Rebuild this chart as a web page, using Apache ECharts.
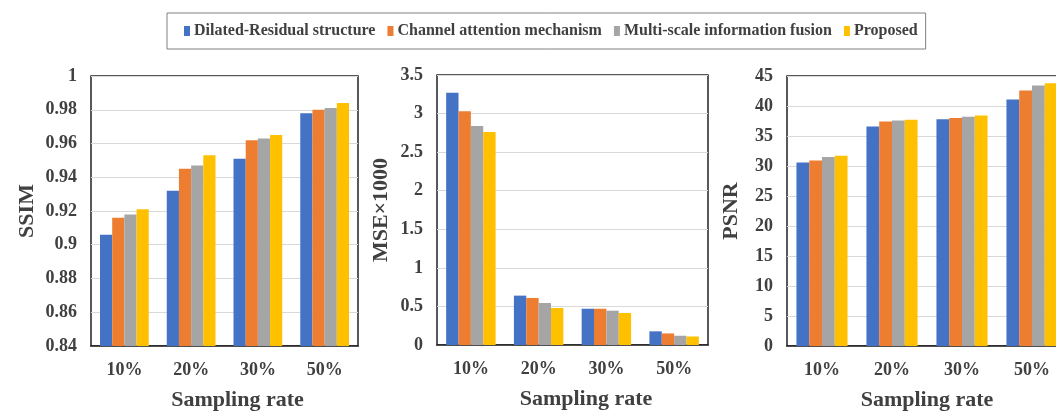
<!DOCTYPE html>
<html><head><meta charset="utf-8">
<script src="https://cdn.jsdelivr.net/npm/echarts@6/dist/echarts.min.js"></script>
<style>html,body{margin:0;padding:0;background:#fff}#c{width:1056px;height:412px}</style>
</head><body><div id="c"></div>
<script>
const categories = ['10%', '20%', '30%', '50%'];
const seriesNames = ['Dilated-Residual structure', 'Channel attention mechanism', 'Multi-scale information fusion', 'Proposed'];
const colors = ['#4472C4', '#ED7D31', '#A5A5A5', '#FFC000'];

// SSIM
const ssimDilated = [0.906, 0.932, 0.951, 0.978];
const ssimChannel = [0.916, 0.945, 0.962, 0.980];
const ssimMulti   = [0.918, 0.947, 0.963, 0.981];
const ssimProposed= [0.921, 0.953, 0.965, 0.984];
// MSE x1000
const mseDilated = [3.27, 0.64, 0.47, 0.177];
const mseChannel = [3.03, 0.61, 0.47, 0.15];
const mseMulti   = [2.84, 0.545, 0.445, 0.12];
const mseProposed= [2.76, 0.48, 0.415, 0.11];
// PSNR
const psnrDilated = [30.6, 36.6, 37.8, 41.1];
const psnrChannel = [30.9, 37.4, 38.0, 42.6];
const psnrMulti   = [31.5, 37.6, 38.2, 43.4];
const psnrProposed= [31.7, 37.7, 38.4, 43.8];

const panels = [
  {name: 'SSIM', min: 0.84, max: 1, interval: 0.02, data: [ssimDilated, ssimChannel, ssimMulti, ssimProposed], gap: 53, xPad: 26},
  {name: 'MSE\u00d71000', min: 0, max: 3.5, interval: 0.5, data: [mseDilated, mseChannel, mseMulti, mseProposed], gap: 45, xPad: 27},
  {name: 'PSNR', min: 0, max: 45, interval: 5, data: [psnrDilated, psnrChannel, psnrMulti, psnrProposed], gap: 45, xPad: 0}
];

const FONT = '"Liberation Serif", "Times New Roman", serif';
const TXT = '#404040';
const grids = [
  {left: 91, top: 76, width: 267, height: 270},
  {left: 437, top: 75, width: 271, height: 270},
  {left: 787, top: 76, width: 280, height: 270}
];

const option = {
  animation: false,
  color: colors,
  legend: {
    data: seriesNames,
    left: 167, top: 13,
    padding: [10, 8, 10, 17],
    borderColor: '#808080', borderWidth: 1,
    itemWidth: 6, itemHeight: 10, itemGap: 12,
    icon: 'rect',
    textStyle: {fontFamily: FONT, fontWeight: 'bold', fontSize: 16, color: TXT, padding: [0, 0, 0, -1]}
  },
  grid: grids.map(g => Object.assign({show: true, outerBoundsMode: 'none', containLabel: false, borderColor: '#222', borderWidth: 1.5, backgroundColor: 'transparent'}, g)),
  xAxis: panels.map((p, i) => ({
    type: 'category', gridIndex: i, data: categories,
    name: 'Sampling rate', nameLocation: 'middle', nameGap: 43,
    nameTextStyle: {fontFamily: FONT, fontWeight: 'bold', fontSize: 22, color: TXT, padding: [0, 0, 0, p.xPad]},
    axisLine: {lineStyle: {color: '#222', width: 1.5}},
    axisTick: {show: false},
    axisLabel: {fontFamily: FONT, fontWeight: 'bold', fontSize: 18, color: TXT, margin: 15}
  })),
  yAxis: panels.map((p, i) => ({
    type: 'value', gridIndex: i, min: p.min, max: p.max, interval: p.interval,
    name: p.name, nameLocation: 'middle', nameGap: p.gap,
    nameTextStyle: {fontFamily: FONT, fontWeight: 'bold', fontSize: 22, color: TXT},
    axisLine: {show: false}, axisTick: {show: false},
    splitLine: {lineStyle: {color: '#d9d9d9', width: 1}},
    axisLabel: {fontFamily: FONT, fontWeight: 'bold', fontSize: 18, color: TXT, margin: 14}
  })),
  series: []
};
panels.forEach((p, i) => {
  p.data.forEach((arr, k) => {
    option.series.push({
      type: 'bar', name: seriesNames[k], xAxisIndex: i, yAxisIndex: i,
      data: arr, barGap: '0%', barCategoryGap: '27%',
      itemStyle: {color: colors[k]}
    });
  });
});
const chart = echarts.init(document.getElementById('c'), null, {renderer: 'canvas'});
chart.setOption(option);
</script></body></html>
